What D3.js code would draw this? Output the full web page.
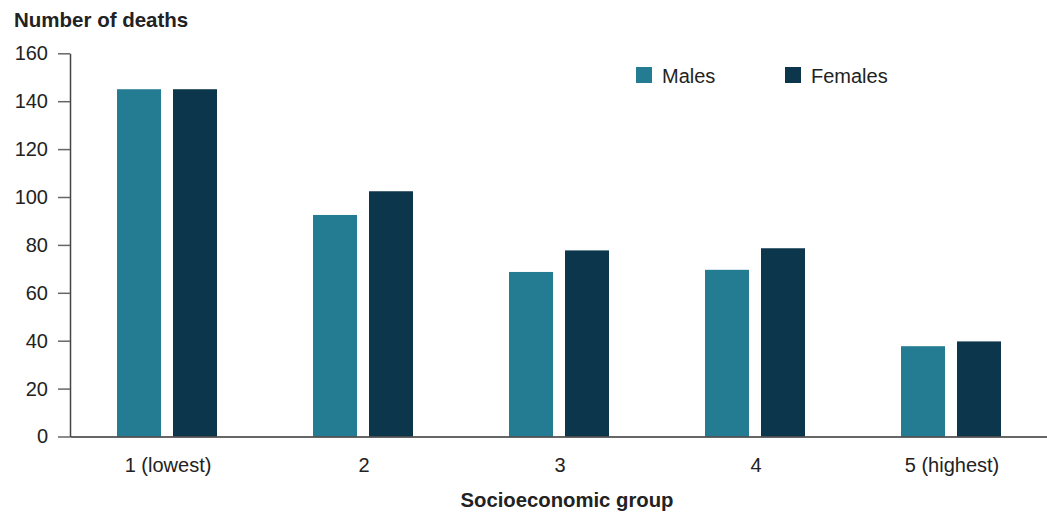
<!DOCTYPE html>
<html><head><meta charset="utf-8">
<script src="https://cdn.jsdelivr.net/npm/d3@7"></script>
<style>
body{margin:0;background:#fff;}
text{font-family:"Liberation Sans",Arial,sans-serif;}
</style></head>
<body>
<svg id="chart" width="1047" height="512"></svg>
<script>
const categories = ["1 (lowest)", "2", "3", "4", "5 (highest)"];
const series = ["Males", "Females"];
const males = [145, 92.5, 68.7, 69.6, 37.7];
const females = [145, 102.4, 77.7, 78.6, 39.7];
const yTicks = [0, 20, 40, 60, 80, 100, 120, 140, 160];
const colors = ["#247c93", "#0b364b"];

const svg = d3.select("#chart");
const mLeft = 70, mRight = 1050, mTop = 53.3, mBottom = 436.5;

const x = d3.scaleBand().domain(categories).range([mLeft, mRight]).padding(0);
const xs = d3.scaleBand().domain(series).range([47, 147]).paddingInner(0.2143).paddingOuter(0);
const y = d3.scaleLinear().domain([0, 160]).range([mBottom, mTop]);
const color = d3.scaleOrdinal().domain(series).range(colors);

const data = categories.map((c, i) => ({cat: c, vals: [
  {s: "Males", v: males[i]}, {s: "Females", v: females[i]}]}));

// bars
svg.append("g").selectAll("g").data(data).join("g")
  .attr("transform", d => `translate(${x(d.cat)},0)`)
  .selectAll("rect").data(d => d.vals).join("rect")
  .attr("x", d => xs(d.s))
  .attr("width", xs.bandwidth())
  .attr("y", d => y(d.v))
  .attr("height", d => y(0) - y(d.v))
  .attr("fill", d => color(d.s));

// y axis
const yAxis = svg.append("g").attr("transform", `translate(${mLeft},0)`)
  .call(d3.axisLeft(y).tickValues(yTicks).tickSize(12).tickSizeOuter(0).tickPadding(10));
yAxis.select(".domain").attr("stroke", "#444").attr("stroke-width", 1.5);
yAxis.selectAll(".tick line").attr("stroke", "#666").attr("stroke-width", 1.5);
yAxis.selectAll(".tick text").attr("font-size", 20).attr("fill", "#222")
  .attr("font-family", "Liberation Sans, Arial, sans-serif");

// x axis
const xAxis = svg.append("g").attr("transform", `translate(0,${mBottom})`)
  .call(d3.axisBottom(x).tickSize(0).tickPadding(21));
xAxis.select(".domain").attr("stroke", "#333").attr("stroke-width", 1.5);
xAxis.selectAll(".tick text").attr("font-size", 20).attr("fill", "#222")
  .attr("font-family", "Liberation Sans, Arial, sans-serif");

// titles
svg.append("text").attr("x", 14).attr("y", 26.7)
  .attr("font-size", 20.5).attr("font-weight", "bold").attr("fill", "#222")
  .text("Number of deaths");
svg.append("text").attr("x", 567).attr("y", 507).attr("text-anchor", "middle")
  .attr("font-size", 20.3).attr("font-weight", "bold").attr("fill", "#222")
  .text("Socioeconomic group");

// legend
const legX = [636, 785];
const leg = svg.append("g").selectAll("g").data(series).join("g")
  .attr("transform", (d, i) => `translate(${legX[i]},67)`);
leg.append("rect").attr("width", 16).attr("height", 16).attr("fill", d => color(d));
leg.append("text").attr("x", 26).attr("y", 16).attr("font-size", 20).attr("fill", "#222").text(d => d);
</script>
</body></html>
